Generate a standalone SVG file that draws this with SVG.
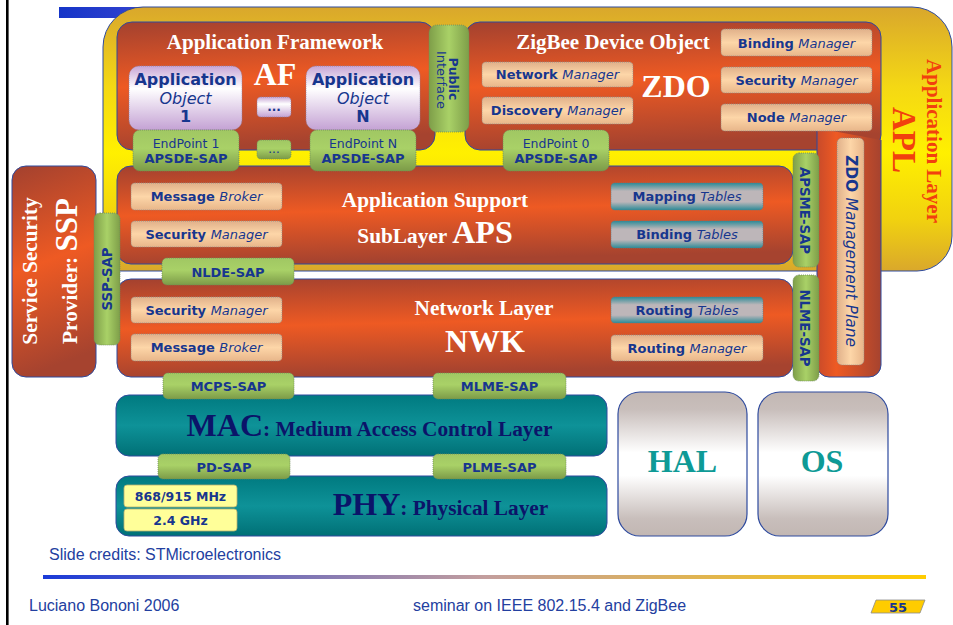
<svg xmlns="http://www.w3.org/2000/svg" width="953" height="625" viewBox="0 0 953 625">
<defs>
<linearGradient id="gApl" gradientUnits="userSpaceOnUse" x1="0" y1="7" x2="0" y2="272">
<stop offset="0" stop-color="#D9A72C"/><stop offset="0.3" stop-color="#F4D814"/><stop offset="0.55" stop-color="#FFF000"/><stop offset="0.8" stop-color="#F1D20F"/><stop offset="1" stop-color="#D9A72C"/>
</linearGradient>
<linearGradient id="gRed" x1="0" y1="0" x2="0.15" y2="1">
<stop offset="0" stop-color="#A3412F"/><stop offset="0.5" stop-color="#EE5A23"/><stop offset="1" stop-color="#A6432F"/>
</linearGradient>
<linearGradient id="gRedH" x1="0" y1="0" x2="1" y2="0">
<stop offset="0" stop-color="#C84A2A"/><stop offset="0.3" stop-color="#EE5A23"/><stop offset="1" stop-color="#A6432F"/>
</linearGradient>
<linearGradient id="gTeal" x1="0" y1="0" x2="0" y2="1">
<stop offset="0" stop-color="#007A80"/><stop offset="0.5" stop-color="#0E9298"/><stop offset="1" stop-color="#007076"/>
</linearGradient>
<linearGradient id="gGrey" x1="0" y1="0" x2="0" y2="1">
<stop offset="0" stop-color="#C2B7B3"/><stop offset="0.12" stop-color="#C8BEBB"/><stop offset="0.42" stop-color="#FFFFFF"/><stop offset="0.58" stop-color="#FFFFFF"/><stop offset="0.88" stop-color="#C8BEBB"/><stop offset="1" stop-color="#C2B7B3"/>
</linearGradient>
<linearGradient id="gPeach" x1="0" y1="0" x2="0" y2="1">
<stop offset="0" stop-color="#E0B08A"/><stop offset="0.5" stop-color="#FDD6A8"/><stop offset="1" stop-color="#E8B68A"/>
</linearGradient>
<linearGradient id="gPeachH" x1="0" y1="0" x2="1" y2="0">
<stop offset="0" stop-color="#E0B08A"/><stop offset="0.5" stop-color="#FDD6A8"/><stop offset="1" stop-color="#E8B68A"/>
</linearGradient>
<linearGradient id="gTable" x1="0" y1="0" x2="0" y2="1">
<stop offset="0" stop-color="#2D8B97"/><stop offset="0.3" stop-color="#BDB6B9"/><stop offset="0.7" stop-color="#BDB6B9"/><stop offset="1" stop-color="#2D8B97"/>
</linearGradient>
<linearGradient id="gGreen" x1="0" y1="0" x2="0" y2="1">
<stop offset="0" stop-color="#A0C763"/><stop offset="0.45" stop-color="#A9D167"/><stop offset="1" stop-color="#7C9B48"/>
</linearGradient>
<linearGradient id="gGreenV" x1="0" y1="0" x2="1" y2="0">
<stop offset="0" stop-color="#7E9E49"/><stop offset="0.5" stop-color="#A9D167"/><stop offset="1" stop-color="#7E9E49"/>
</linearGradient>
<linearGradient id="gLav" x1="0" y1="0" x2="0" y2="1">
<stop offset="0" stop-color="#C7A6D6"/><stop offset="0.35" stop-color="#FFFFFF"/><stop offset="1" stop-color="#C4A2D4"/>
</linearGradient>
<linearGradient id="gLine" x1="0" y1="0" x2="1" y2="0">
<stop offset="0" stop-color="#1A3AD8"/><stop offset="0.5" stop-color="#C39E9E"/><stop offset="1" stop-color="#FFCC00"/>
</linearGradient>
<linearGradient id="gBlue" x1="0" y1="0" x2="1" y2="0">
<stop offset="0" stop-color="#1535C8"/><stop offset="1" stop-color="#4048D2"/>
</linearGradient>
<style>
.red{fill:url(#gRed);stroke:#2E4A9E;stroke-width:1}
.peach{fill:url(#gPeach);stroke:#8C8C8C;stroke-width:0.8;stroke-dasharray:1 1}
.tab{fill:url(#gTable);stroke:#5C7F8C;stroke-width:0.8;stroke-dasharray:1 1}
.sap{fill:url(#gGreen);stroke:#6F8A5A;stroke-width:0.8;stroke-dasharray:1 1}
.sapv{fill:url(#gGreenV);stroke:#6F8A5A;stroke-width:0.8;stroke-dasharray:1 1}
.lav{fill:url(#gLav);stroke:#8E7FA0;stroke-width:0.8;stroke-dasharray:1 1}
.teal{fill:url(#gTeal);stroke:#2E4A9E;stroke-width:1}
.grey{fill:url(#gGrey);stroke:#2E4A9E;stroke-width:1.2}
.bt{font-family:"DejaVu Sans",Verdana,sans-serif;font-size:13px;font-weight:bold;fill:#17368E;text-anchor:middle}
.it{font-style:italic;font-weight:normal}
.ser{font-family:"Liberation Serif","Times New Roman",serif;font-weight:bold;fill:#FFFFFF;text-anchor:middle}
.ft{font-family:"Liberation Sans",Arial,sans-serif;font-size:16px;fill:#2340A0}
</style>
</defs>

<rect x="0" y="0" width="953" height="625" fill="#FFFFFF"/>
<rect x="6" y="0" width="2.6" height="625" fill="#000000"/>
<rect x="59" y="7" width="120" height="11" fill="url(#gBlue)"/>

<g id="apl">
<path d="M103,47 A40,40 0 0 1 143,7 H912 A40,40 0 0 1 952,47 V236 A35,35 0 0 1 917,271 H120 A17,17 0 0 1 103,254 Z" fill="url(#gApl)" stroke="#2E4A9E" stroke-width="1"/>
<text class="ser" transform="translate(927,141) rotate(90)" style="fill:#F2400E;font-size:21px">Application Layer</text>
<text class="ser" transform="translate(893,140) rotate(90)" style="fill:#F2400E;font-size:33px">APL</text>
</g>

<g id="af">
<rect class="red" x="117" y="22" width="318" height="128" rx="15"/>
<text class="ser" x="275" y="49" style="font-size:21px">Application Framework</text>
<text class="ser" x="275" y="85" style="font-size:32px">AF</text>
</g>

<g id="zdo">
<rect class="red" x="465" y="22" width="416" height="128" rx="15"/>
<path d="M817,128 V365 A12,12 0 0 0 829,377 H869 A12,12 0 0 0 881,365 V140" fill="url(#gRedH)" stroke="#2E4A9E" stroke-width="1"/>
<text class="ser" x="613" y="49" style="font-size:21px">ZigBee Device Object</text>
<text class="ser" x="676" y="97" style="font-size:32px">ZDO</text>
</g>

<g id="public-interface">
<rect class="sapv" x="429" y="25" width="40" height="107" rx="8"/>
<text class="bt" transform="translate(449,79) rotate(90)" style="font-size:12.5px">Public</text>
<text class="bt" transform="translate(436.5,80) rotate(90)" style="font-size:13px;font-weight:normal">Interface</text>
</g>

<g id="app-object-1">
<rect class="lav" x="129" y="66" width="113" height="64" rx="10"/>
<text class="bt" x="185.5" y="85" style="font-size:16px">Application</text>
<text class="bt" x="185.5" y="104" style="font-size:16px;font-style:italic;font-weight:normal">Object</text>
<text class="bt" x="185.5" y="122" style="font-size:16px">1</text>
</g>
<g id="af-dots">
<rect class="lav" x="257" y="97" width="34" height="20" rx="4"/>
<text class="bt" x="274" y="111" style="font-size:12px">...</text>
</g>
<g id="app-object-n">
<rect class="lav" x="306" y="66" width="114" height="64" rx="10"/>
<text class="bt" x="363" y="85" style="font-size:16px">Application</text>
<text class="bt" x="363" y="104" style="font-size:16px;font-style:italic;font-weight:normal">Object</text>
<text class="bt" x="363" y="122" style="font-size:16px">N</text>
</g>

<g id="zdo-managers">
<rect class="peach" x="721" y="29" width="151" height="27" rx="4"/>
<text class="bt" x="796.5" y="47.5">Binding <tspan class="it">Manager</tspan></text>
<rect class="peach" x="482" y="62" width="151" height="25" rx="4"/>
<text class="bt" x="557.5" y="79">Network <tspan class="it">Manager</tspan></text>
<rect class="peach" x="482" y="97" width="151" height="27" rx="4"/>
<text class="bt" x="557.5" y="115">Discovery <tspan class="it">Manager</tspan></text>
<rect class="peach" x="721" y="67" width="151" height="26" rx="4"/>
<text class="bt" x="796.5" y="84.5">Security <tspan class="it">Manager</tspan></text>
<rect class="peach" x="721" y="104" width="151" height="27" rx="4"/>
<text class="bt" x="796.5" y="122">Node <tspan class="it">Manager</tspan></text>
</g>

<g id="zdo-management-plane">
<rect x="837" y="138" width="27" height="227" rx="5" fill="url(#gPeachH)" stroke="#8C8C8C" stroke-width="0.8" stroke-dasharray="1 1"/>
<text class="bt" transform="translate(846,251) rotate(90)" style="font-size:15.5px">ZDO <tspan class="it">Management Plane</tspan></text>
</g>

<g id="ssp">
<rect class="red" x="12" y="166" width="84" height="211" rx="14"/>
<text class="ser" transform="translate(37,271) rotate(-90)" style="font-size:21.3px">Service Security</text>
<text class="ser" transform="translate(77,271) rotate(-90)" style="font-size:21.3px">Provider: <tspan style="font-size:31px">SSP</tspan></text>
</g>

<g id="aps">
<rect class="red" x="117" y="166" width="676" height="98" rx="14"/>
<text class="ser" x="435" y="207" style="font-size:21.3px">Application Support</text>
<text class="ser" x="435" y="243" style="font-size:21.3px">SubLayer <tspan style="font-size:32px">APS</tspan></text>
<rect class="peach" x="131" y="183" width="151" height="27" rx="4"/>
<text class="bt" x="206.5" y="201">Message <tspan class="it">Broker</tspan></text>
<rect class="peach" x="131" y="221" width="151" height="26" rx="4"/>
<text class="bt" x="206.5" y="238.5">Security <tspan class="it">Manager</tspan></text>
<rect class="tab" x="611" y="183" width="152" height="27" rx="4"/>
<text class="bt" x="687" y="201">Mapping <tspan class="it">Tables</tspan></text>
<rect class="tab" x="611" y="221" width="152" height="27" rx="4"/>
<text class="bt" x="687" y="239">Binding <tspan class="it">Tables</tspan></text>
</g>

<g id="endpoint-1">
<rect class="sap" x="133" y="130" width="106" height="41" rx="7"/>
<text class="bt" x="186" y="148" style="font-size:12.5px;font-weight:normal">EndPoint 1</text>
<text class="bt" x="186" y="163">APSDE-SAP</text>
</g>
<g id="endpoint-dots">
<rect class="sap" x="257" y="140" width="34" height="19" rx="4"/>
<text class="bt" x="274" y="153" style="font-size:12px;font-weight:normal">...</text>
</g>
<g id="endpoint-n">
<rect class="sap" x="310" y="130" width="106" height="41" rx="7"/>
<text class="bt" x="363" y="148" style="font-size:12.5px;font-weight:normal">EndPoint N</text>
<text class="bt" x="363" y="163">APSDE-SAP</text>
</g>
<g id="endpoint-0">
<rect class="sap" x="503" y="130" width="106" height="41" rx="7"/>
<text class="bt" x="556" y="148" style="font-size:12.5px;font-weight:normal">EndPoint 0</text>
<text class="bt" x="556" y="163">APSDE-SAP</text>
</g>

<g id="nwk">
<rect class="red" x="117" y="279" width="676" height="98" rx="14"/>
<text class="ser" x="484" y="315" style="font-size:21.3px">Network Layer</text>
<text class="ser" x="485" y="352" style="font-size:32px">NWK</text>
<rect class="peach" x="131" y="297" width="151" height="26" rx="4"/>
<text class="bt" x="206.5" y="314.5">Security <tspan class="it">Manager</tspan></text>
<rect class="peach" x="131" y="334" width="151" height="27" rx="4"/>
<text class="bt" x="206.5" y="352">Message <tspan class="it">Broker</tspan></text>
<rect class="tab" x="611" y="297" width="152" height="26" rx="4"/>
<text class="bt" x="687" y="314.5">Routing <tspan class="it">Tables</tspan></text>
<rect class="peach" x="611" y="335" width="152" height="26" rx="4"/>
<text class="bt" x="687" y="352.5">Routing <tspan class="it">Manager</tspan></text>
</g>

<g id="apsme-sap">
<rect class="sapv" x="793" y="153" width="26" height="114" rx="6"/>
<text class="bt" transform="translate(799.5,210.5) rotate(90)" style="font-size:13.3px">APSME-SAP</text>
</g>
<g id="nlme-sap">
<rect class="sapv" x="793" y="275" width="26" height="106" rx="6"/>
<text class="bt" transform="translate(799.5,328) rotate(90)" style="font-size:13.3px">NLME-SAP</text>
</g>
<g id="ssp-sap">
<rect class="sapv" x="94" y="213" width="26" height="132" rx="6"/>
<text class="bt" transform="translate(112,279) rotate(-90)" style="font-size:13.3px">SSP-SAP</text>
</g>
<g id="nlde-sap">
<rect class="sap" x="162" y="258" width="132" height="27" rx="5"/>
<text class="bt" x="228" y="276.5">NLDE-SAP</text>
</g>

<g id="mac">
<rect class="teal" x="116" y="395" width="491" height="61" rx="13"/>
<text class="ser" x="369.5" y="436" style="font-size:21.3px;fill:#0B1469"><tspan style="font-size:32px">MAC</tspan>: Medium Access Control Layer</text>
</g>
<g id="phy">
<rect class="teal" x="116" y="476" width="491" height="60" rx="13"/>
<text class="ser" x="440.5" y="515" style="font-size:21.3px;fill:#0B1469"><tspan style="font-size:32px">PHY</tspan>: Physical Layer</text>
<rect x="124" y="485" width="113" height="22" rx="3" fill="#FFFF99" stroke="#B8B070" stroke-width="0.8"/>
<text class="bt" x="180.5" y="500.5" style="font-size:12.5px">868/915 MHz</text>
<rect x="124" y="509" width="113" height="22" rx="3" fill="#FFFF99" stroke="#B8B070" stroke-width="0.8"/>
<text class="bt" x="180.5" y="524.5" style="font-size:12.5px">2.4 GHz</text>
</g>

<g id="mcps-sap">
<rect class="sap" x="163" y="373" width="131" height="26" rx="5"/>
<text class="bt" x="228.5" y="391">MCPS-SAP</text>
</g>
<g id="mlme-sap">
<rect class="sap" x="433" y="373" width="133" height="26" rx="5"/>
<text class="bt" x="499.5" y="391">MLME-SAP</text>
</g>
<g id="pd-sap">
<rect class="sap" x="158" y="454" width="132" height="25" rx="5"/>
<text class="bt" x="224" y="471.5">PD-SAP</text>
</g>
<g id="plme-sap">
<rect class="sap" x="433" y="454" width="133" height="25" rx="5"/>
<text class="bt" x="499.5" y="471.5">PLME-SAP</text>
</g>

<g id="hal">
<rect class="grey" x="618" y="392" width="129" height="144" rx="22"/>
<text class="ser" x="682.5" y="472" style="font-size:32px;fill:#0E9A96">HAL</text>
</g>
<g id="os">
<rect class="grey" x="758" y="392" width="130" height="144" rx="22"/>
<text class="ser" x="822" y="472" style="font-size:32px;fill:#0E9A96">OS</text>
</g>

<g id="connectors"></g>

<g id="footer">
<text class="ft" x="49" y="560">Slide credits: STMicroelectronics</text>
<rect x="43" y="575" width="883" height="4" fill="url(#gLine)"/>
<text class="ft" x="29" y="611">Luciano Bononi 2006</text>
<text class="ft" x="413" y="611">seminar on IEEE 802.15.4 and ZigBee</text>
<polygon points="876,600 925,600 920,613 871,613" fill="#FFCC00" stroke="#8C8C8C" stroke-width="0.8"/>
<text class="bt" x="898" y="611.5">55</text>
</g>
</svg>
